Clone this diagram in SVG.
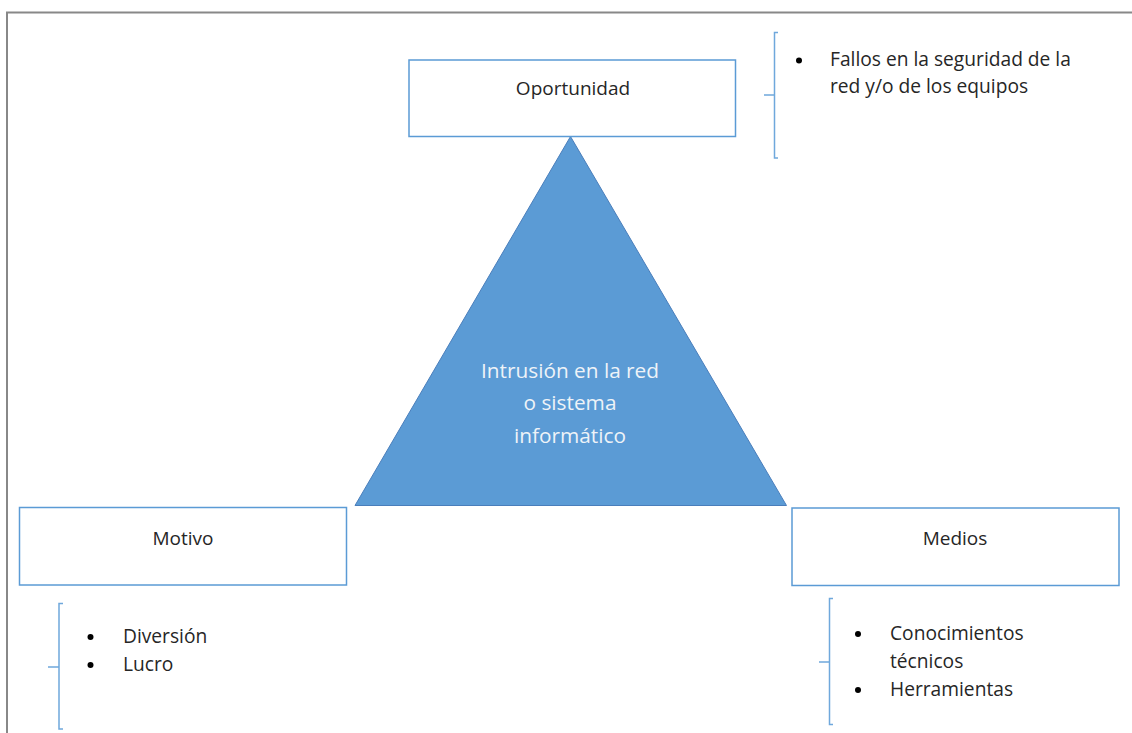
<svg xmlns="http://www.w3.org/2000/svg" width="1132" height="733" viewBox="0 0 1132 733">
<style>
.box{fill:#fff;stroke:#5B9BD5;stroke-width:1.5}
.lbl{font-family:"Open Sans",Lato,sans-serif;font-size:19px;fill:#262626;text-anchor:middle}
.txt{font-family:"Open Sans",Lato,sans-serif;font-size:19.2px;fill:#262626}
.tri{font-family:"Open Sans",Lato,sans-serif;font-size:20.8px;fill:#EEF3F8;text-anchor:middle}
.br{fill:none;stroke:#6FA8DC;stroke-width:1.5}
</style>
<rect width="1132" height="733" fill="#fff"/>
<path d="M7 733 V12.5 H1132" fill="none" stroke="#888" stroke-width="2"/>
<g id="triangle">
<polygon points="570.5,136.5 355,505.5 786.5,505.5" fill="#5B9BD5" stroke="#4A7EBB" stroke-width="1"/>
<text class="tri" x="570" y="378">Intrusión en la red</text>
<text class="tri" x="570" y="410">o sistema</text>
<text class="tri" x="570" y="443">informático</text>
</g>
<g id="oportunidad">
<rect class="box" x="409" y="60" width="326.5" height="76.5"/>
<text class="lbl" x="573" y="95">Oportunidad</text>
</g>
<g id="motivo">
<rect class="box" x="19.5" y="507.5" width="327" height="77.5"/>
<text class="lbl" x="183" y="545">Motivo</text>
</g>
<g id="medios">
<rect class="box" x="792" y="508" width="327" height="77.5"/>
<text class="lbl" x="955" y="545">Medios</text>
</g>
<g id="connectors">
<path class="br" d="M778 32.5 H774.5 V158 H778 M764 95 H774.5"/>
<path class="br" d="M63 603.5 H59 V729 H63 M48 667 H59"/>
<path class="br" d="M833 598.5 H829.5 V724.5 H833 M819 662 H829.5"/>
</g>
<g id="oportunidad-list">
<circle cx="799" cy="60.5" r="3" fill="#000"/>
<text class="txt" x="830" y="66">Fallos en la seguridad de la</text>
<text class="txt" x="830" y="93">red y/o de los equipos</text>
</g>
<g id="motivo-list">
<circle cx="90.5" cy="637" r="3" fill="#000"/>
<text class="txt" x="123" y="643">Diversión</text>
<circle cx="90.5" cy="665" r="3" fill="#000"/>
<text class="txt" x="123" y="671">Lucro</text>
</g>
<g id="medios-list">
<circle cx="858" cy="634" r="3" fill="#000"/>
<text class="txt" x="890" y="640">Conocimientos</text>
<text class="txt" x="890" y="668">técnicos</text>
<circle cx="858" cy="690" r="3" fill="#000"/>
<text class="txt" x="890" y="696">Herramientas</text>
</g>
</svg>
